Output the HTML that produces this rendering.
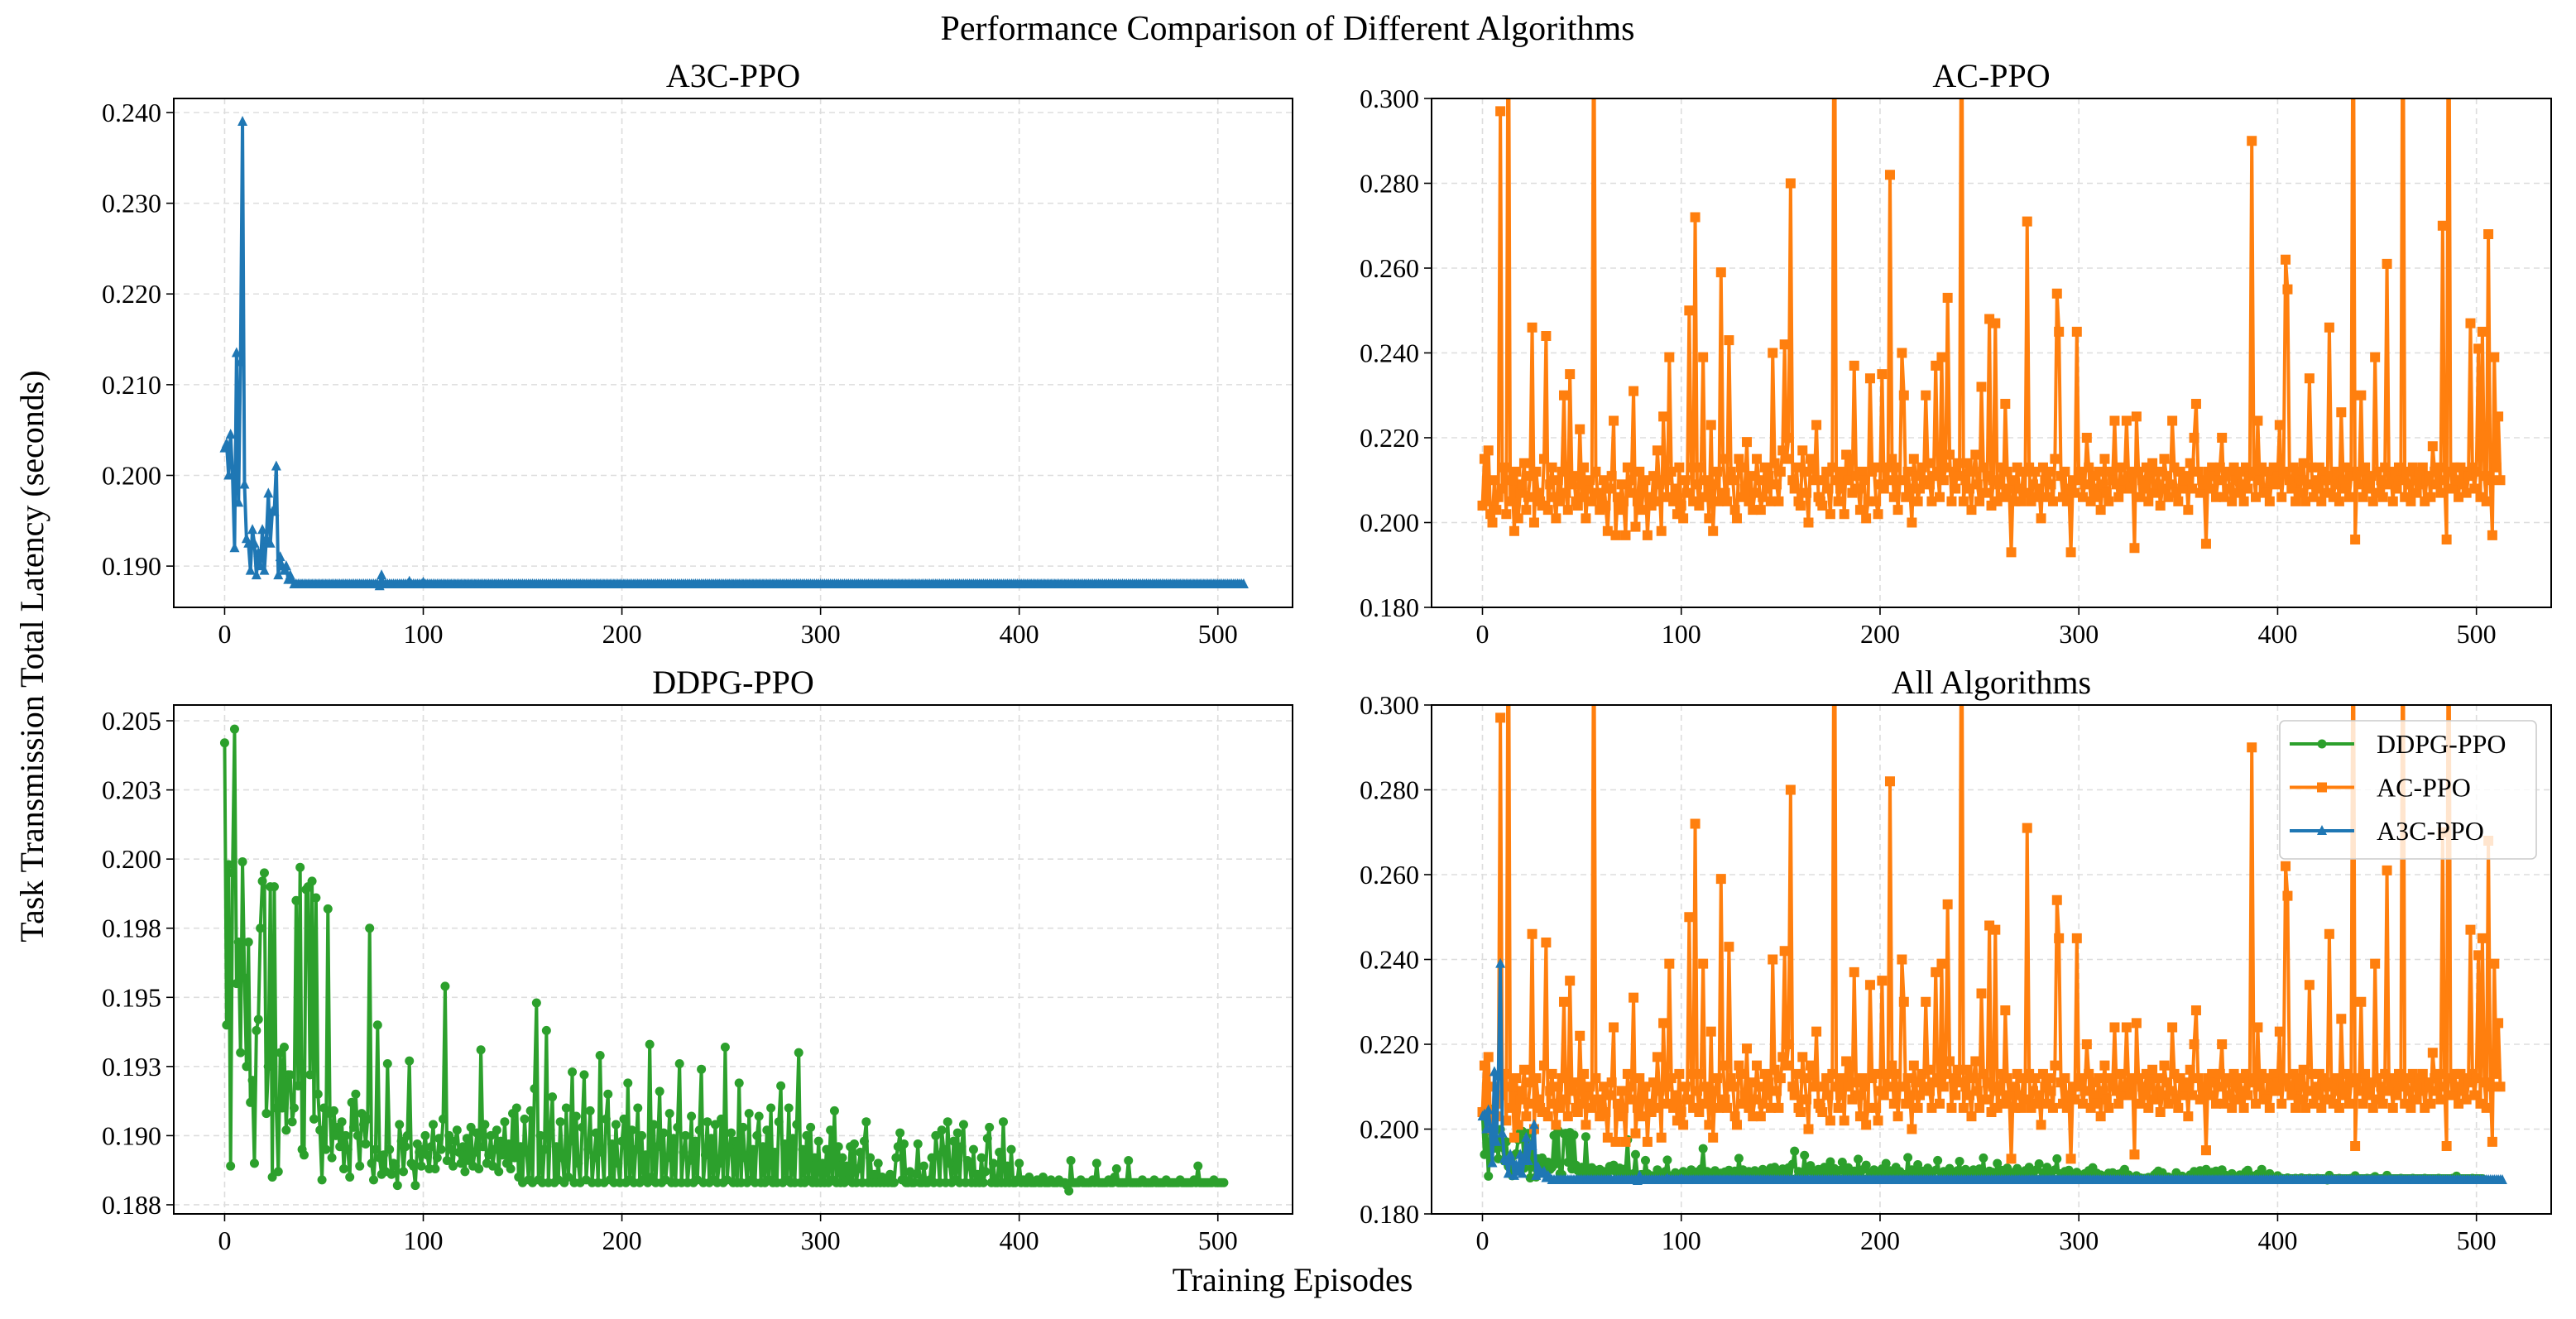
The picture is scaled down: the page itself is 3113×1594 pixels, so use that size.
<!DOCTYPE html>
<html><head><meta charset="utf-8">
<style>
html,body{margin:0;padding:0;background:#fff;}
svg{display:block;font-family:"Liberation Serif","DejaVu Serif",serif;}
</style></head>
<body>
<svg id="fig" width="3113" height="1594" viewBox="0 0 3113 1594" xmlns="http://www.w3.org/2000/svg">
<text x="1556" y="48" font-size="42" text-anchor="middle">Performance Comparison of Different Algorithms</text>
<text transform="translate(52,793) rotate(-90)" font-size="40" text-anchor="middle">Task Transmission Total Latency (seconds)</text>
<text x="1562" y="1560" font-size="40" text-anchor="middle">Training Episodes</text>
</svg>
<script>
// Latency values in milliseconds, index = episode
const a3cValues = [203,203.5,200,204.5,200,192,213.5,197,212.5,239,
199,193,192.5,189.5,194,192.5,189,191.5,190,194,
189.5,193,198,192.5,196,196,201,189,191,190,
189.5,190,188.5,189,188.5,188,188,188,188,188,
188,188,188,188,188,188,188,188,188,188,188,188,188,188,188,188,188,188,188,188,
188,188,188,188,188,188,188,188,188,188,188,188,188,188,188,188,188,188,187.8,189,
188,188,188,188,188,188,188,188,188,188,188,188,188,188.3,188,188,188,188,188,188,
188.2,188,188,188,188,188,188,188,188,188,188,188,188,188,188,188,188,188,188,188,
188,188,188,188,188,188,188,188,188,188,188,188,188,188,188,188,188,188,188,188,
188,188,188,188,188,188,188,188,188,188,188,188,188,188,188,188,188,188,188,188,
188,188,188,188,188,188,188,188,188,188,188,188,188,188,188,188,188,188,188,188,
188,188,188,188,188,188,188,188,188,188,188,188,188,188,188,188,188,188,188,188,
188,188,188,188,188,188,188,188,188,188,188,188,188,188,188,188,188,188,188,188,
188,188,188,188,188,188,188,188,188,188,188,188,188,188,188,188,188,188,188,188,
188,188,188,188,188,188,188,188,188,188,188,188,188,188,188,188,188,188,188,188,
188,188,188,188,188,188,188,188,188,188,188,188,188,188,188,188,188,188,188,188,
188,188,188,188,188,188,188,188,188,188,188,188,188,188,188,188,188,188,188,188,
188,188,188,188,188,188,188,188,188,188,188,188,188,188,188,188,188,188,188,188,
188,188,188,188,188,188,188,188,188,188,188,188,188,188,188,188,188,188,188,188,
188,188,188,188,188,188,188,188,188,188,188,188,188,188,188,188,188,188,188,188,
188,188,188,188,188,188,188,188,188,188,188,188,188,188,188,188,188,188,188,188,
188,188,188,188,188,188,188,188,188,188,188,188,188,188,188,188,188,188,188,188,
188,188,188,188,188,188,188,188,188,188,188,188,188,188,188,188,188,188,188,188,
188,188,188,188,188,188,188,188,188,188,188,188,188,188,188,188,188,188,188,188,
188,188,188,188,188,188,188,188,188,188,188,188,188,188,188,188,188,188,188,188,
188,188,188,188,188,188,188,188,188,188,188,188,188,
188,188,188,188,188,188,188,188,188,188,188,188,188,188,188,188,188,188,188,188,
188,188,188,188,188,188,188,188,188,188,188,188,188,188,188,188,188,188,188,188,188];

const acValues = [204,215,205,217,202,200,210,203,206,297,
208,213,202,340,205,210,198,212,201,207,
209,214,203,206,211,246,200,212,207,205,
204,215,244,203,209,213,206,201,210,205,
212,230,207,203,235,209,211,205,204,222,
206,213,201,208,210,205,330,212,207,203,
205,210,204,198,208,211,224,197,206,203,
209,205,197,213,207,210,231,199,205,212,
203,208,210,197,206,204,211,205,217,209,
198,225,210,206,239,212,205,208,202,213,
204,201,210,207,250,213,205,272,209,204,
213,239,206,210,201,223,198,209,212,205,
259,215,207,205,243,212,210,203,201,215,
213,206,208,219,205,211,203,207,215,210,
203,206,213,208,211,205,240,214,209,205,
212,217,242,215,220,280,210,208,213,205,
204,217,212,207,200,215,213,210,223,206,
205,204,210,212,208,202,213,350,210,205,
208,212,202,216,210,215,207,237,211,208,
203,212,210,201,205,234,212,213,205,202,
209,235,208,213,210,282,215,206,213,203,
210,240,230,206,212,208,200,215,211,205,
208,213,210,230,214,209,205,211,237,212,
206,239,210,213,253,216,205,212,208,214,
211,340,205,210,214,208,203,212,216,209,
205,232,213,207,211,248,204,210,247,205,
209,213,206,228,212,208,193,210,205,213,
208,205,212,207,271,213,205,209,212,206,
208,201,213,210,206,212,209,205,215,254,
245,211,206,212,205,208,193,210,207,245,
210,212,206,209,220,213,205,211,208,206,
212,203,209,215,207,205,212,210,224,209,
206,213,208,210,224,211,208,212,194,225,
212,206,210,208,213,205,211,214,207,209,
212,204,208,215,211,206,209,224,213,207,
205,212,208,210,211,203,214,208,220,228,
212,207,210,209,195,212,208,213,211,206,
210,213,220,206,211,212,208,205,213,210,
207,212,209,205,213,208,211,290,212,206,
224,210,213,208,207,212,205,210,213,209,
211,223,206,212,262,255,210,208,213,205,
212,207,210,214,205,209,234,213,206,210,
208,213,205,212,210,207,246,211,206,209,
212,205,226,210,208,213,206,211,340,196,
212,209,230,206,213,210,208,211,205,239,
212,207,210,206,213,261,209,211,205,212,
208,213,210,340,206,212,209,205,213,210,
207,212,209,213,205,210,211,206,218,212,
209,213,207,270,210,196,350,212,208,213,
210,206,213,209,212,207,211,247,213,208,
212,241,206,245,211,205,268,210,197,239,
213,225,210];

const ddpgValues = [204.2,194.0,199.8,188.9,199.5,204.7,195.5,197.0,193.0,199.9,
195.7,192.5,197.0,191.2,192.0,189.0,193.8,194.2,197.5,199.2,
199.5,190.8,192.5,199.0,188.5,199.0,191.0,188.7,193.0,191.0,
193.2,190.2,192.2,192.2,190.5,191.0,198.5,191.8,199.7,189.5,
189.3,198.9,199.0,192.2,199.2,190.6,198.6,191.5,190.2,188.4,
191.0,189.5,198.2,190.8,189.2,190.9,190.0,190.3,189.6,190.5,
188.8,190.0,189.5,188.5,191.2,190.3,191.5,190.0,188.9,190.8,
190.4,189.7,190.6,197.5,189.0,188.4,189.5,194.0,189.2,188.6,
189.3,188.7,192.6,189.5,188.6,189.0,188.9,188.2,190.4,189.8,
188.7,189.6,190.0,192.7,189.0,188.9,188.2,189.7,189.4,188.9,
189.5,190.0,189.3,188.8,189.6,190.4,188.8,189.2,189.9,189.5,
190.6,195.4,189.1,190.0,189.5,188.9,189.8,190.2,189.4,189.0,
189.6,188.7,189.9,189.1,190.3,188.9,189.4,190.1,188.8,193.1,
189.6,190.4,189.0,189.3,190.0,188.9,189.5,190.2,188.7,189.8,
189.3,190.5,189.0,189.7,188.8,190.8,189.2,191.0,188.5,189.6,
188.3,190.6,189.4,188.4,190.9,188.3,191.7,194.8,188.4,190.0,
188.3,189.5,193.8,188.3,190.2,191.4,188.3,189.6,188.4,190.5,
189.2,188.3,191.0,188.5,189.8,192.3,188.3,190.7,189.0,188.3,
190.3,192.2,188.4,189.5,190.9,188.3,189.2,190.1,188.3,192.9,
189.4,188.3,190.6,191.5,188.4,189.7,188.3,190.4,189.0,188.3,
189.8,190.6,188.3,191.9,188.4,190.2,188.3,189.5,191.0,188.3,
190.0,188.4,189.3,188.3,193.3,188.5,190.4,188.3,189.6,191.6,
188.3,190.1,188.4,189.2,190.8,188.3,189.9,188.3,190.3,192.6,
188.3,189.4,190.0,188.3,189.1,190.7,188.3,189.8,188.4,190.2,
192.4,188.3,189.3,190.5,188.3,189.9,188.4,190.4,188.3,189.0,
190.6,188.3,193.2,188.4,189.5,190.1,188.3,189.8,188.3,191.9,
188.3,190.3,189.2,188.3,190.8,188.4,189.5,188.3,190.0,190.7,
188.3,189.6,188.3,190.2,188.4,191.0,188.3,189.4,188.3,190.5,
191.8,188.3,189.7,188.4,191.0,188.3,189.9,188.3,190.4,193.0,
188.3,189.5,188.3,190.0,188.4,190.3,188.3,189.2,188.3,189.8,
188.3,189.0,188.3,189.5,188.3,190.2,188.4,190.9,188.3,189.6,
188.3,189.2,188.3,188.9,188.4,189.6,188.3,189.7,188.3,188.8,
189.4,188.3,189.8,190.5,188.3,189.2,188.3,188.6,188.3,189.0,
188.3,188.5,188.3,188.4,188.3,188.6,188.3,188.3,189.2,189.6,
190.1,188.4,189.7,188.3,188.3,188.7,188.3,188.3,188.6,189.7,
188.3,188.3,188.9,188.3,188.3,188.4,189.2,188.3,190.0,189.3,
188.3,190.2,189.5,188.3,190.5,189.0,188.3,189.8,188.4,190.1,
188.3,189.6,190.4,188.3,189.1,188.9,188.3,189.5,188.3,188.6,
188.3,189.2,188.3,188.7,189.9,190.3,188.3,189.0,188.3,188.3,
189.4,188.3,190.5,188.3,188.9,188.3,189.5,188.3,188.3,188.4,
189.0,188.3,188.4,188.3,188.3,188.5,188.3,188.3,188.3,188.4,
188.3,188.3,188.5,188.3,188.3,188.3,188.4,188.3,188.3,188.3,
188.4,188.3,188.3,188.3,188.2,188.0,189.1,188.3,188.3,188.3,
188.3,188.4,188.3,188.3,188.3,188.3,188.3,188.4,188.3,189.0,
188.3,188.3,188.3,188.3,188.3,188.4,188.3,188.3,188.5,188.8,
188.3,188.3,188.3,188.3,188.3,189.1,188.3,188.3,188.3,188.3,
188.3,188.3,188.4,188.3,188.3,188.3,188.3,188.3,188.4,188.3,
188.3,188.3,188.3,188.3,188.4,188.3,188.3,188.3,188.3,188.3,
188.3,188.4,188.3,188.3,188.3,188.3,188.3,188.3,188.4,188.3,
188.9,188.3,188.3,188.3,188.3,188.3,188.3,188.3,188.4,188.3,
188.3,188.3,188.3,188.3];

const xTickValues = [0,100,200,300,400,500];
const a3cYTicks = [190,200,210,220,230,240];
const a3cYLabels = ["0.190","0.200","0.210","0.220","0.230","0.240"];
const ddpgYTicks = [205,202.5,200,197.5,195,192.5,190,187.5];
const ddpgYLabels = ["0.205","0.203","0.200","0.198","0.195","0.193","0.190","0.188"];
const acYTicks = [180,200,220,240,260,280,300];
const acYLabels = ["0.180","0.200","0.220","0.240","0.260","0.280","0.300"];
const seriesNames = ["DDPG-PPO","AC-PPO","A3C-PPO"];

const NS = "http://www.w3.org/2000/svg";
const fig = document.getElementById("fig");
const COLORS = {"DDPG-PPO":"#2ca02c","AC-PPO":"#ff7f0e","A3C-PPO":"#1f77b4"};
const MARK = {"DDPG-PPO":"circle","AC-PPO":"square","A3C-PPO":"triangle"};
let clipId = 0;

function mk(tag, attrs, parent) {
  const e = document.createElementNS(NS, tag);
  for (const k in attrs) e.setAttribute(k, attrs[k]);
  (parent || fig).appendChild(e);
  return e;
}

function marker(g, kind, x, y, color) {
  let m;
  if (kind === "circle") {
    m = mk("circle", {cx:x, cy:y, r:5.5, fill:color}, g);
  } else if (kind === "square") {
    m = mk("rect", {x:x-6, y:y-6, width:12, height:12, fill:color}, g);
  } else {
    m = mk("polygon", {points:`${x},${y-7} ${x-6},${y+5} ${x+6},${y+5}`, fill:color}, g);
  }
  return m;
}

function panel(cfg) {
  const {L, R, T, B, xmin, xmax, ymin, ymax} = cfg;
  const xs = v => L + (v - xmin) / (xmax - xmin) * (R - L);
  const ys = v => B - (v - ymin) / (ymax - ymin) * (B - T);
  const g = mk("g", {});
  
  
  const grid = mk("g", {stroke:"#dddddd", "stroke-width":1.6, "stroke-dasharray":"7,5"}, g);
  
  
  xTickValues.forEach(v => mk("line", {x1:xs(v), x2:xs(v), y1:T, y2:B}, grid));
  cfg.yticks.forEach(v => mk("line", {x1:L, x2:R, y1:ys(v), y2:ys(v)}, grid));
  xTickValues.forEach(v => {
    mk("line", {x1:xs(v), x2:xs(v), y1:B, y2:B+9, stroke:"#000", "stroke-width":1.6}, g);
    const t = mk("text", {x:xs(v), y:B+43, "font-size":32, "text-anchor":"middle"}, g);
    t.textContent = String(v);
    
    
  });
  cfg.yticks.forEach((v, i) => {
    mk("line", {x1:L-9, x2:L, y1:ys(v), y2:ys(v), stroke:"#000", "stroke-width":1.6}, g);
    const t = mk("text", {x:L-15, y:ys(v)+11, "font-size":32, "text-anchor":"end"}, g);
    t.textContent = cfg.ylabels[i];
    
    
  });
  const cid = "clip" + (clipId++);
  const cp = mk("clipPath", {id:cid}, g);
  mk("rect", {x:L, y:T, width:R-L, height:B-T}, cp);
  const plot = mk("g", {"clip-path":`url(#${cid})`}, g);
  cfg.series.forEach(s => {
    const color = COLORS[s.label];
    const sg = mk("g", {}, plot);
    
    
    const pts = s.values.map((v, i) => `${xs(i).toFixed(2)},${ys(v).toFixed(2)}`).join(" ");
    const pl = mk("polyline", {points:pts, fill:"none", stroke:color, "stroke-width":4, "stroke-linejoin":"round"}, sg);
    
    
    s.values.forEach((v, i) => {
      const m = marker(sg, MARK[s.label], xs(i), ys(v), color);
      
      
    });
  });
  const fr = mk("rect", {x:L, y:T, width:R-L, height:B-T, fill:"none", stroke:"#000", "stroke-width":2}, g);
  
  
  const tt = mk("text", {x:(L+R)/2, y:T-14, "font-size":40, "text-anchor":"middle"}, g);
  tt.textContent = cfg.title;
  
  
  return {xs, ys, g};
}

const XMIN = -25.6, XMAX = 537.6;
panel({name:"a3c-panel", title:"A3C-PPO", L:210, R:1562, T:119, B:734, xmin:XMIN, xmax:XMAX,
  ymin:185.45, ymax:241.55, yticks:a3cYTicks, ylabels:a3cYLabels,
  series:[{label:"A3C-PPO", values:a3cValues}]});
panel({name:"ac-panel", title:"AC-PPO", L:1730, R:3083, T:119, B:734, xmin:XMIN, xmax:XMAX,
  ymin:180, ymax:300, yticks:acYTicks, ylabels:acYLabels,
  series:[{label:"AC-PPO", values:acValues}]});
panel({name:"ddpg-panel", title:"DDPG-PPO", L:210, R:1562, T:852, B:1467, xmin:XMIN, xmax:XMAX,
  ymin:187.17, ymax:205.57, yticks:ddpgYTicks, ylabels:ddpgYLabels,
  series:[{label:"DDPG-PPO", values:ddpgValues}]});
panel({name:"all-panel", title:"All Algorithms", L:1730, R:3083, T:852, B:1467, xmin:XMIN, xmax:XMAX,
  ymin:180, ymax:300, yticks:acYTicks, ylabels:acYLabels,
  series:[{label:"DDPG-PPO", values:ddpgValues},{label:"AC-PPO", values:acValues},{label:"A3C-PPO", values:a3cValues}]});

const lg = mk("g", {});


mk("rect", {x:2755, y:871, width:310, height:167, rx:6, fill:"#fff", "fill-opacity":0.8, stroke:"#cccccc", "stroke-width":1.6}, lg);
seriesNames.forEach((n, i) => {
  const y = 899 + i * 52.5;
  const e = mk("g", {}, lg);
  
  
  mk("line", {x1:2767, x2:2845, y1:y, y2:y, stroke:COLORS[n], "stroke-width":4}, e);
  marker(e, MARK[n], 2806, y, COLORS[n]);
  const t = mk("text", {x:2872, y:y+11, "font-size":32}, e);
  t.textContent = n;
});
</script>
</body></html>
